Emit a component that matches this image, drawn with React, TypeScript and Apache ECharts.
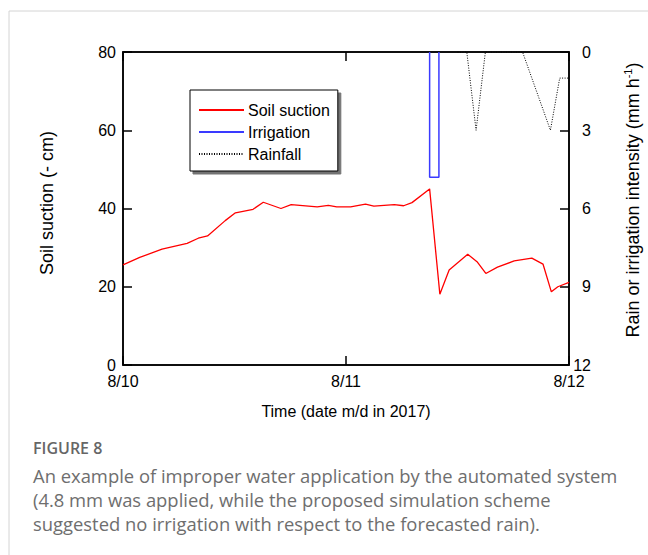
import React, { useEffect, useRef } from "react";
import * as echarts from "echarts";

// Soil suction (cm) vs. hours since 8/10 00:00
const suctionHours = [0, 1.8, 4.2, 6.9, 8.1, 9.1, 11.0, 12.1, 14.0, 15.1, 17.0, 18.1, 20.9, 22.1, 23.0, 24.5, 26.1, 27.0, 29.2, 30.2, 31.1, 33.0, 34.1, 35.1, 37.1, 38.1, 39.05, 40.3, 42.1, 44.0, 45.2, 46.1, 46.8, 48];
const suctionValues = [25.6, 27.5, 29.6, 31.1, 32.4, 33.0, 36.9, 38.9, 39.8, 41.6, 40.0, 41.0, 40.4, 40.8, 40.4, 40.4, 41.1, 40.6, 41.0, 40.7, 41.5, 45.0, 18.1, 24.3, 28.3, 26.4, 23.4, 25.0, 26.6, 27.3, 25.8, 18.7, 20.0, 21.1];

// Irrigation intensity (mm/h)
const irrigationHours = [33, 33, 34, 34];
const irrigationValues = [0, 4.8, 4.8, 0];

// Rainfall intensity (mm/h)
const rainHours = [36, 37, 38, 39, 43, 46, 47, 48];
const rainValues = [0, 0, 3, 0, 0, 3, 1, 1];

const dateTicks: Record<number, string> = { 0: "8/10", 24: "8/11", 48: "8/12" };

const captionTitle = "FIGURE 8";
const captionLines = [
  "An example of improper water application by the automated system",
  "(4.8 mm was applied, while the proposed simulation scheme",
  "suggested no irrigation with respect to the forecasted rain).",
];

const FONT = "'Liberation Sans', Arial, sans-serif";
const CAP_FONT = "'Open Sans', 'Noto Sans', sans-serif";

export default function App() {
  const ref = useRef<HTMLDivElement>(null);
  useEffect(() => {
    if (!ref.current) return;
    const chart = echarts.init(ref.current, undefined, { renderer: "svg" });
    const zip = (xs: number[], ys: number[]) => xs.map((x, i) => [x, ys[i]]);
    const axisLine = () => ({ show: true, onZero: false, lineStyle: { color: "#000", width: 1.5 } });
    const tick = () => ({ show: true, inside: true, length: 9, lineStyle: { color: "#000", width: 1.5 } });
    chart.setOption({
      animation: false,
      backgroundColor: "#fff",
      grid: { left: 123, top: 52, width: 446, height: 313, show: true, borderColor: "#000", borderWidth: 1.5, backgroundColor: "transparent" },
      xAxis: [
        {
          type: "value", min: 0, max: 48, interval: 24,
          axisLine: axisLine(), axisTick: tick(), splitLine: { show: false },
          axisLabel: { margin: 8, color: "#000", fontSize: 16, fontFamily: FONT, formatter: (v: number) => dateTicks[v] ?? "" },
        },
        {
          type: "value", min: 0, max: 48, interval: 24, position: "top",
          axisLine: axisLine(), axisTick: tick(), splitLine: { show: false }, axisLabel: { show: false },
        },
      ],
      yAxis: [
        {
          type: "value", min: 0, max: 80, interval: 20, position: "left",
          axisLine: axisLine(), axisTick: tick(), splitLine: { show: false },
          axisLabel: { margin: 7, color: "#000", fontSize: 16, fontFamily: FONT },
        },
        {
          type: "value", min: 0, max: 12, interval: 3, inverse: true, position: "right",
          axisLine: axisLine(), axisTick: tick(), splitLine: { show: false },
          axisLabel: { margin: 22, align: "right", color: "#000", fontSize: 16, fontFamily: FONT },
        },
      ],
      legend: {
        orient: "vertical", left: 190, top: 90,
        padding: [12, 8, 9, 8], itemGap: 6, itemWidth: 45, itemHeight: 14,
        backgroundColor: "#fff", borderColor: "#000", borderWidth: 1,
        shadowColor: "rgba(0,0,0,0.55)", shadowOffsetX: 3, shadowOffsetY: 3, shadowBlur: 1,
        itemStyle: { color: "transparent", borderColor: "transparent", borderWidth: 0, opacity: 0 },
        textStyle: { color: "#000", fontSize: 16, fontFamily: FONT, padding: [0, 0, 0, -1] },
        data: ["Soil suction", "Irrigation", "Rainfall"],
      },
      series: [
        {
          name: "Soil suction", type: "line", xAxisIndex: 0, yAxisIndex: 0, symbol: "none",
          data: zip(suctionHours, suctionValues), lineStyle: { color: "#ff0000", width: 1.3 }, itemStyle: { color: "#ff0000" },
        },
        {
          name: "Irrigation", type: "line", xAxisIndex: 0, yAxisIndex: 1, symbol: "none",
          data: zip(irrigationHours, irrigationValues), lineStyle: { color: "#3a3aff", width: 1.5 }, itemStyle: { color: "#3a3aff" },
        },
        {
          name: "Rainfall", type: "line", xAxisIndex: 0, yAxisIndex: 1, symbol: "none",
          data: zip(rainHours, rainValues), lineStyle: { color: "#000", width: 1, type: [1, 1.5] }, itemStyle: { color: "#000" },
        },
      ],
      graphic: [
        { type: "line", shape: { x1: 9, y1: 11, x2: 648, y2: 11 }, style: { stroke: "#d4d4d4", lineWidth: 1 } },
        { type: "line", shape: { x1: 9, y1: 11, x2: 9, y2: 555 }, style: { stroke: "#d4d4d4", lineWidth: 1 } },
        {
          type: "text", x: 346, y: 411,
          style: { text: "Time (date m/d in 2017)", align: "center", verticalAlign: "middle", fill: "#000", fontSize: 16, fontFamily: FONT },
        },
        {
          type: "text", x: 47, y: 203, rotation: Math.PI / 2,
          style: { text: "Soil suction (- cm)", align: "center", verticalAlign: "middle", fill: "#000", fontSize: 18, fontFamily: FONT },
        },
        {
          type: "text", x: 632, y: 200, rotation: Math.PI / 2,
          style: {
            text: "{a|Rain or irrigation intensity (mm h}{s|-1}{a|)}",
            align: "center", verticalAlign: "middle", fill: "#000", fontFamily: FONT,
            rich: {
              a: { fontSize: 18, fontFamily: FONT, fill: "#000", lineHeight: 20, verticalAlign: "bottom" },
              s: { fontSize: 11, fontFamily: FONT, fill: "#000", lineHeight: 20, verticalAlign: "top", padding: [0, 0, 8, 0] },
            },
          },
        },
        {
          type: "text", x: 33, y: 448,
          style: { text: captionTitle, align: "left", verticalAlign: "middle", fill: "#666", fontSize: 16, fontWeight: 600, fontFamily: CAP_FONT },
        },
        ...captionLines.map((t, i) => ({
          type: "text", x: 33, y: 475 + i * 24,
          style: { text: t, align: "left", verticalAlign: "middle", fill: "#6e6e6e", fontSize: 18.4, fontFamily: CAP_FONT },
        })),
      ],
    });
    return () => chart.dispose();
  }, []);
  return <div ref={ref} style={{ position: "absolute", left: 0, top: 0, width: 648, height: 555 }} />;
}
